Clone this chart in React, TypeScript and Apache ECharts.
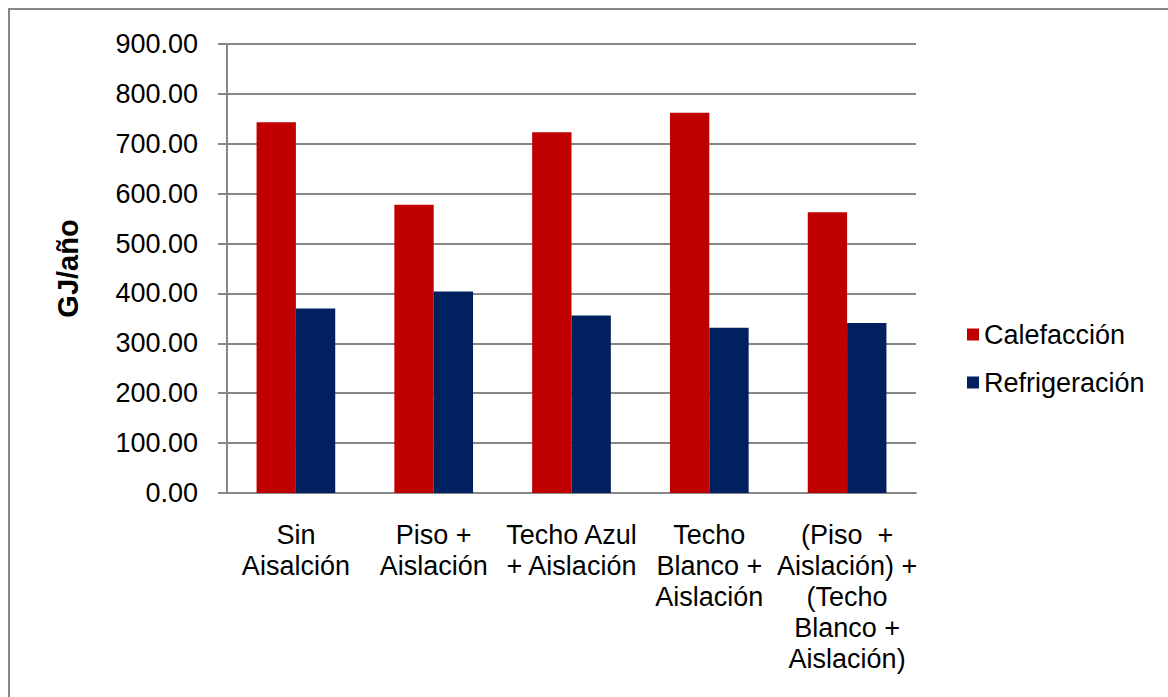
import React, { useEffect, useRef } from "react";
import * as echarts from "echarts";

const categories = [
  "Sin\nAisalción",
  "Piso +\nAislación",
  "Techo Azul\n+ Aislación",
  "Techo\nBlanco +\nAislación",
  "(Piso  +\nAislación) +\n(Techo\nBlanco +\nAislación)",
];
const calefaccion = [743, 578, 723, 762, 563];
const refrigeracion = [370, 404, 356, 331, 341];
const seriesNames = ["Calefacción", "Refrigeración"];
const yAxisName = "GJ/año";

const FONT = "'Liberation Sans', Arial, sans-serif";
const GRAY = "#878787";

export default function App() {
  const ref = useRef<HTMLDivElement>(null);
  useEffect(() => {
    if (!ref.current) return;
    const chart = echarts.init(ref.current, null, { renderer: "svg" });
    chart.setOption({
      animation: false,
      backgroundColor: "#ffffff",
      textStyle: { fontFamily: FONT },
      graphic: [
        {
          type: "rect",
          shape: { x: 9, y: 9, width: 1200, height: 800 },
          style: { fill: "none", stroke: GRAY, lineWidth: 2 },
          silent: true,
        },
      ],
      grid: { left: 227, right: 252, top: 44, bottom: 204, containLabel: false },
      legend: {
        orient: "vertical",
        left: 962,
        top: 316,
        itemWidth: 12,
        itemHeight: 12,
        itemGap: 21,
        icon: "rect",
        textStyle: { fontFamily: FONT, fontSize: 27, color: "#000", lineHeight: 27 },
        data: seriesNames,
      },
      xAxis: {
        type: "category",
        data: categories,
        axisLine: { show: true, lineStyle: { color: GRAY, width: 2 } },
        axisTick: { show: false },
        axisLabel: {
          interval: 0,
          fontFamily: FONT,
          fontSize: 27,
          lineHeight: 31,
          color: "#000",
          margin: 26,
          align: "center",
        },
      },
      yAxis: {
        type: "value",
        min: 0,
        max: 900,
        interval: 100,
        name: yAxisName,
        nameLocation: "middle",
        nameGap: 145,
        nameTextStyle: { fontFamily: FONT, fontSize: 29, fontWeight: "bold", color: "#000" },
        axisLine: { show: true, lineStyle: { color: GRAY, width: 2 } },
        axisTick: { show: true, length: 9, lineStyle: { color: GRAY, width: 2 } },
        splitLine: { show: true, lineStyle: { color: GRAY, width: 2 } },
        axisLabel: {
          fontFamily: FONT,
          fontSize: 27,
          color: "#000",
          margin: 29,
          formatter: (v: number) => v.toFixed(2),
        },
      },
      series: [
        {
          name: seriesNames[0],
          type: "bar",
          data: calefaccion,
          barGap: "0%",
          barCategoryGap: "42.9%",
          itemStyle: { color: "#C00000" },
        },
        {
          name: seriesNames[1],
          type: "bar",
          data: refrigeracion,
          barGap: "0%",
          barCategoryGap: "42.9%",
          itemStyle: { color: "#002060" },
        },
      ],
    });
    return () => chart.dispose();
  }, []);
  return (
    <div
      ref={ref}
      style={{ position: "absolute", left: 0, top: 0, width: 1168, height: 697 }}
    />
  );
}
